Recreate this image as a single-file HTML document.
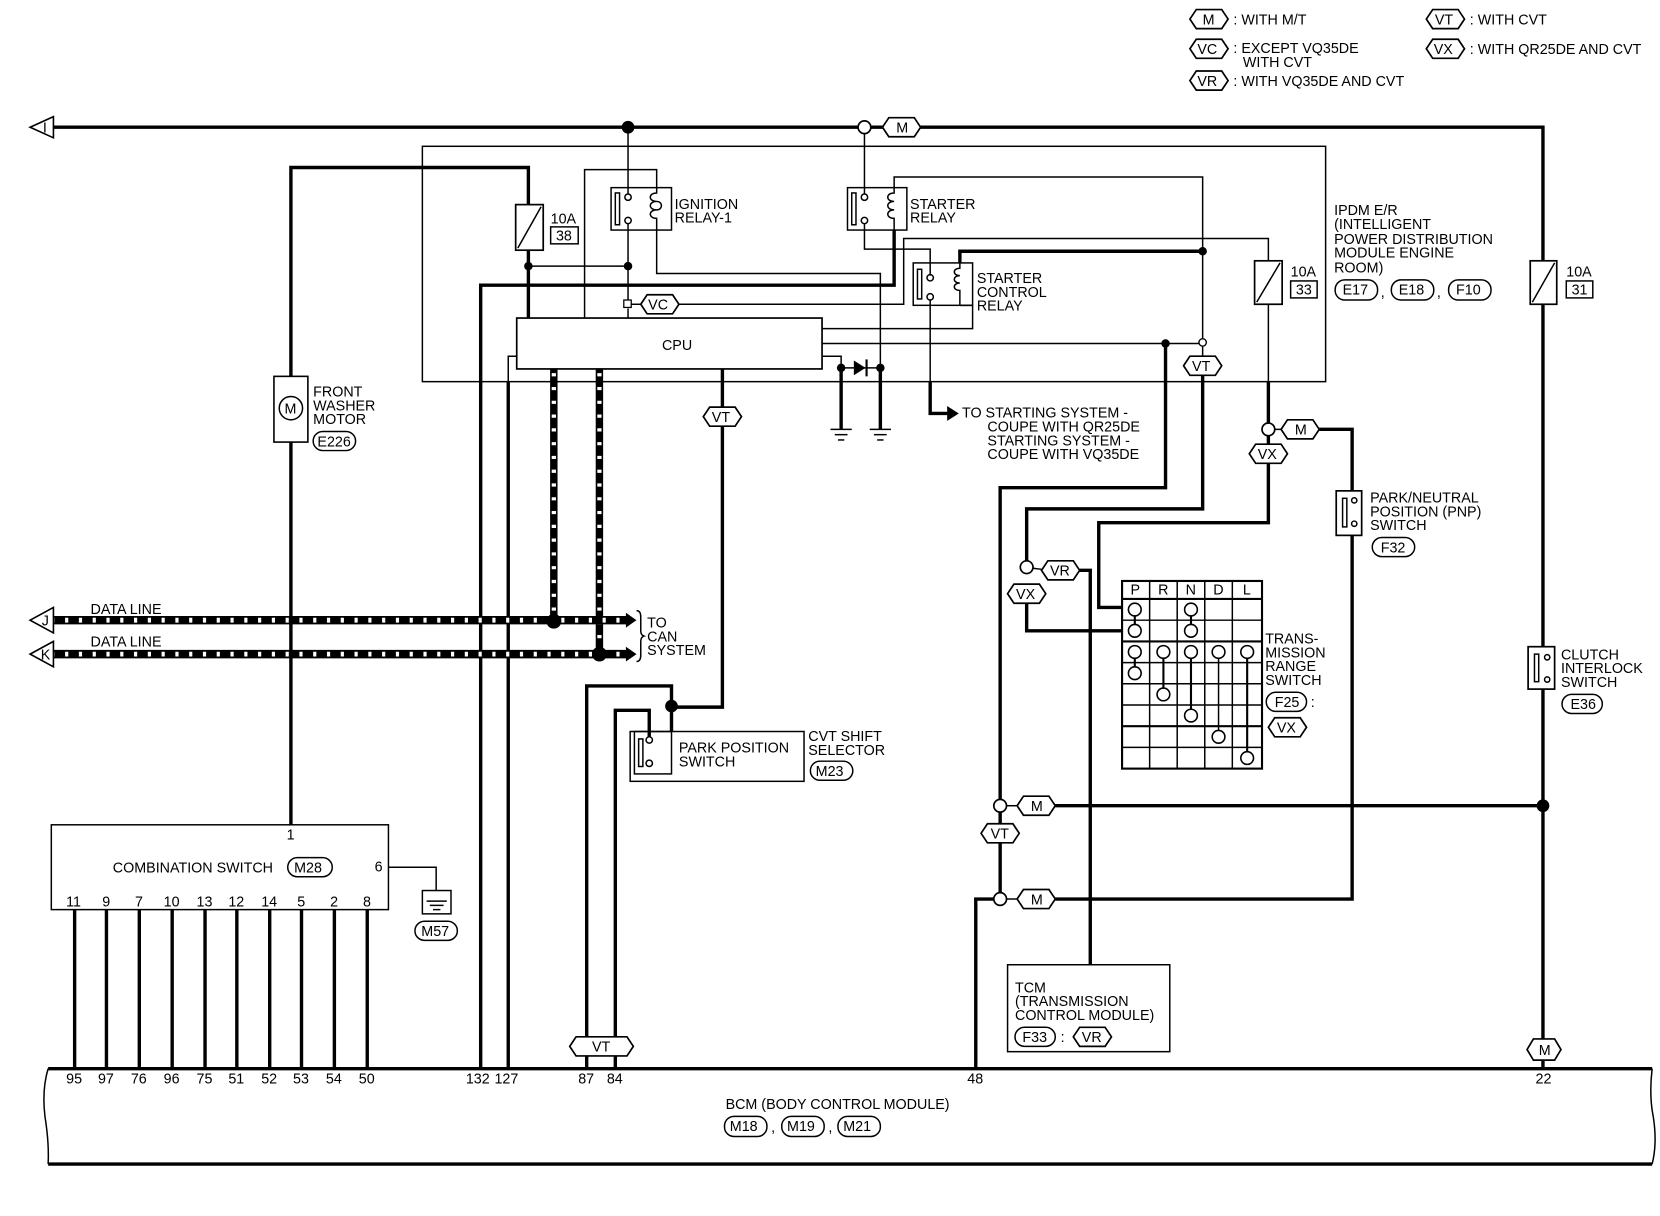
<!DOCTYPE html>
<html><head><meta charset="utf-8"><style>
html,body{margin:0;padding:0;background:#fff}
svg{display:block}
text{font-family:"Liberation Sans",sans-serif;font-size:13.5px;fill:#000}
.t{stroke:#000;stroke-width:1.4;fill:none}
.k{stroke:#000;stroke-width:3.2;fill:none}
.h{fill:#fff;stroke:#000;stroke-width:1.6}
</style></head><body>
<svg width="1660" height="1216" viewBox="0 0 1565 1147" xmlns="http://www.w3.org/2000/svg">
<!-- legend -->
<g>
<polygon class="h" points="1122,18 1128,9 1152,9 1158,18 1152,27 1128,27"/><text x="1134" y="23">M</text><text x="1163" y="23">: WITH M/T</text>
<polygon class="h" points="1122,46 1128,37 1152,37 1158,46 1152,55 1128,55"/><text x="1129" y="51">VC</text><text x="1163" y="50">: EXCEPT VQ35DE</text><text x="1172" y="63">WITH CVT</text>
<polygon class="h" points="1122,76 1128,67 1152,67 1158,76 1152,85 1128,85"/><text x="1129" y="81">VR</text><text x="1163" y="81">: WITH VQ35DE AND CVT</text>
<polygon class="h" points="1345,18 1351,9 1375,9 1381,18 1375,27 1351,27"/><text x="1353" y="23">VT</text><text x="1386" y="23">: WITH CVT</text>
<polygon class="h" points="1345,46 1351,37 1375,37 1381,46 1375,55 1351,55"/><text x="1352" y="51">VX</text><text x="1386" y="51">: WITH QR25DE AND CVT</text>
</g>
<!-- top bus -->
<polyline class="k" points="45,120 1455,120 1455,1008"/>
<polygon points="28,120 50,110 50,130" fill="#fff" stroke="#000" stroke-width="1.5"/><text x="40" y="125" font-size="11">I</text>
<circle cx="592" cy="120" r="6"/>
<!-- IPDM box -->
<rect x="398" y="138" width="852" height="222" class="t"/>
<!-- washer motor wire -->
<polyline class="k" points="274,778 274,158 498,158 498,193"/>
<rect x="258" y="355" width="32" height="62" fill="#fff" stroke="#000" stroke-width="1.5"/>
<circle cx="274" cy="385" r="11" class="t" fill="#fff"/><text x="268" y="390" font-size="12">M</text>
<text x="295" y="374">FRONT</text><text x="295" y="387">WASHER</text><text x="295" y="400">MOTOR</text>
<rect x="295" y="407" width="40" height="18" rx="9" class="t"/><text x="299" y="421" font-size="12">E226</text>
<!-- fuse 38 -->
<rect x="486" y="193" width="26" height="43" fill="#fff" stroke="#000" stroke-width="1.6"/><line x1="488" y1="234" x2="510" y2="195" class="t"/>
<text x="519" y="211">10A</text><rect x="519" y="214" width="26" height="16" class="t"/><text x="524" y="227">38</text>
<polyline class="k" points="498,236 498,300"/>
<circle cx="498" cy="251" r="4"/><circle cx="592" cy="251" r="4"/>
<line class="t" x1="498" y1="251" x2="592" y2="251"/>
<!-- ignition relay -->
<rect x="576" y="177" width="57" height="40" class="t"/>
<rect x="580" y="182" width="4" height="30" class="t"/>
<circle cx="592" cy="186" r="3" class="t" fill="#fff"/><circle cx="592" cy="208" r="3" class="t" fill="#fff"/>
<path class="t" d="M619,177 v5 c-8,0 -8,8 0,8 c-8,0 -8,8 0,8 c-8,0 -8,8 0,8 v11 M619,190 c6,0 6,8 0,8"/>
<text x="636" y="197">IGNITION</text><text x="636" y="210">RELAY-1</text>
<polyline class="t" points="592,120 592,183"/><polyline class="t" points="592,211 592,283"/><line class="t" x1="592" y1="291" x2="592" y2="300"/>
<rect x="588" y="283" width="7" height="7" fill="#fff" stroke="#000" stroke-width="1.2"/>
<polyline class="t" points="551,300 551,160 619,160 619,177"/>
<polyline class="t" points="619,217 619,258 830,258 830,347"/>
<!-- VC -->
<line class="t" x1="595" y1="287" x2="604" y2="287"/>
<polygon class="h" points="604,287 610,278 634,278 640,287 634,296 610,296"/><text x="611" y="292">VC</text>
<polyline class="t" points="640,287 852,287 852,225 1196,225 1196,246"/>
<!-- starter relay -->
<circle cx="815" cy="120" r="6" fill="#fff" stroke="#000" stroke-width="1.6"/>
<polygon class="h" points="832,120 838,111 862,111 868,120 862,129 838,129"/><text x="845" y="125">M</text>
<line class="t" x1="821" y1="120" x2="832" y2="120"/>
<rect x="799" y="177" width="56" height="40" class="t"/>
<rect x="803" y="182" width="4" height="30" class="t"/>
<circle cx="815" cy="186" r="3" class="t" fill="#fff"/><circle cx="815" cy="208" r="3" class="t" fill="#fff"/>
<path class="t" d="M843,177 v5 c-8,0 -8,8 0,8 c-8,0 -8,8 0,8 c-8,0 -8,8 0,8 v11"/>
<text x="858" y="197">STARTER</text><text x="858" y="210">RELAY</text>
<polyline class="t" points="815,126 815,183"/>
<polyline class="t" points="815,211 815,235 877,235 877,260"/>
<polyline class="t" points="843,177 843,167 1134,167 1134,320"/>
<polyline class="k" points="843,217 843,269 453,269 453,1008"/>
<!-- starter control relay -->
<rect x="861" y="248" width="56" height="40" class="t"/>
<rect x="865" y="254" width="4" height="28" class="t"/>
<circle cx="877" cy="262" r="3" class="t" fill="#fff"/><circle cx="877" cy="280" r="3" class="t" fill="#fff"/>
<path class="t" d="M905,248 v5 c-7,0 -7,7 0,7 c-7,0 -7,7 0,7 c-7,0 -7,7 0,7 v14"/>
<text x="921" y="267">STARTER</text><text x="921" y="280">CONTROL</text><text x="921" y="293">RELAY</text>
<polyline class="k" points="905,248 905,237 1134,237"/><circle cx="1134" cy="237" r="4"/>
<polyline class="t" points="775,310 917,310 917,288 905,288"/>
<polyline class="t" points="877,283 877,360"/>
<polyline class="k" points="877,360 877,390 895,390"/>
<polygon points="893,383 904,390 893,397"/>
<text x="907" y="394">TO STARTING SYSTEM -</text><text x="931" y="407">COUPE WITH QR25DE</text><text x="931" y="420">STARTING SYSTEM -</text><text x="931" y="433">COUPE WITH VQ35DE</text>
<!-- CPU -->
<rect x="487" y="300" width="288" height="48" fill="#fff" stroke="#000" stroke-width="1.6"/>
<text x="624" y="330">CPU</text>
<polyline class="t" points="775,324 1131,324"/><circle cx="1099" cy="324" r="4"/>
<circle cx="1134" cy="323" r="3.5" fill="#fff" stroke="#000" stroke-width="1.3"/>
<polyline class="t" points="775,336 793,336 793,347"/>
<line class="t" x1="793" y1="347" x2="830" y2="347"/>
<polygon points="805,340 805,354 816,347"/><line x1="817" y1="339" x2="817" y2="355" stroke="#000" stroke-width="2"/>
<circle cx="793" cy="347" r="4"/><circle cx="830" cy="347" r="4"/>
<polyline class="k" points="793,347 793,405"/><polyline class="k" points="830,347 830,405"/>
<g class="t"><line x1="783" y1="405" x2="803" y2="405"/><line x1="787" y1="410" x2="799" y2="410"/><line x1="790" y1="415" x2="796" y2="415"/>
<line x1="820" y1="405" x2="840" y2="405"/><line x1="824" y1="410" x2="836" y2="410"/><line x1="827" y1="415" x2="833" y2="415"/></g>
<polyline class="t" points="487,336 479,336 479,360"/><polyline class="k" points="479,360 479,1008"/>
<!-- data line verticals -->
<g>
<line x1="522" y1="348" x2="522" y2="585" stroke="#000" stroke-width="7"/>
<line x1="522" y1="352" x2="522" y2="585" stroke="#fff" stroke-width="4" stroke-dasharray="3,10"/>
<line x1="565" y1="348" x2="565" y2="617" stroke="#000" stroke-width="7"/>
<line x1="565" y1="352" x2="565" y2="617" stroke="#fff" stroke-width="4" stroke-dasharray="3,10"/>
</g>
<!-- VT at CPU -->
<polyline class="k" points="681,348 681,667 633,667"/>
<polygon class="h" points="663,393 669,384 693,384 699,393 693,402 669,402"/><text x="671" y="398">VT</text>
<!-- data lines -->
<g>
<line x1="50" y1="585" x2="592" y2="585" stroke="#000" stroke-width="8"/>
<line x1="50" y1="585" x2="592" y2="585" stroke="#fff" stroke-width="4.5" stroke-dasharray="3,10" stroke-dashoffset="2"/>
<line x1="50" y1="617" x2="592" y2="617" stroke="#000" stroke-width="8"/>
<line x1="50" y1="617" x2="592" y2="617" stroke="#fff" stroke-width="4.5" stroke-dasharray="3,10" stroke-dashoffset="2"/>
<polygon points="590,578 600,585 590,592"/><polygon points="590,610 600,617 590,624"/>
<polygon points="28,585 50,573 50,597" fill="#fff" stroke="#000" stroke-width="1.5"/><text x="39" y="590" font-size="11">J</text>
<polygon points="28,617 50,605 50,629" fill="#fff" stroke="#000" stroke-width="1.5"/><text x="38" y="622" font-size="11">K</text>
<circle cx="522" cy="586" r="7"/><circle cx="565" cy="617" r="7"/>
<text x="85" y="579">DATA LINE</text><text x="85" y="610">DATA LINE</text>
<path class="t" d="M600,576 q4,0 4,6 v13 q0,4 3,5 q-3,1 -3,5 v13 q0,6 -4,6"/>
<text x="610" y="592">TO</text><text x="610" y="605">CAN</text><text x="610" y="618">SYSTEM</text>
</g>
<!-- park position switch -->
<polyline class="k" points="553,1008 553,647 633,647 633,690"/>
<circle cx="633" cy="666" r="6"/>
<polyline class="k" points="580,1008 580,670 612,670 612,695"/>
<rect x="594" y="690" width="164" height="47" class="t"/>
<rect x="598" y="690" width="35" height="40" class="t"/>
<rect x="602" y="697" width="4" height="26" class="t"/>
<circle cx="612" cy="698" r="3" class="t" fill="#fff"/><circle cx="612" cy="720" r="3" class="t" fill="#fff"/>
<text x="640" y="710">PARK POSITION</text><text x="640" y="723">SWITCH</text>
<text x="762" y="699">CVT SHIFT</text><text x="762" y="712">SELECTOR</text>
<rect x="764" y="718" width="40" height="18" rx="9" class="t"/><text x="769" y="732" font-size="12">M23</text>
<polygon class="h" points="537,987 543,978 591,978 597,987 591,996 543,996"/><text x="558" y="992">VT</text>
<!-- combination switch -->
<rect x="48" y="778" width="318" height="80" class="t"/>
<text x="270" y="792">1</text>
<text x="106" y="823">COMBINATION SWITCH</text>
<rect x="271" y="809" width="42" height="18" rx="9" class="t"/><text x="277" y="823" font-size="12">M28</text>
<text x="353" y="822">6</text>
<polyline class="t" points="366,818 411,818 411,840"/>
<rect x="398" y="840" width="27" height="22" class="t"/>
<g class="t"><line x1="402" y1="850" x2="421" y2="850"/><line x1="405" y1="854" x2="418" y2="854"/><line x1="408" y1="858" x2="415" y2="858"/></g>
<rect x="391" y="869" width="40" height="18" rx="9" class="t"/><text x="397" y="883" font-size="12">M57</text>
<g font-size="13">
<text x="62" y="855">11</text><text x="96" y="855">9</text><text x="127" y="855">7</text><text x="154" y="855">10</text><text x="185" y="855">13</text><text x="215" y="855">12</text><text x="246" y="855">14</text><text x="280" y="855">5</text><text x="311" y="855">2</text><text x="342" y="855">8</text>
</g>
<g class="k"><line x1="70" y1="858" x2="70" y2="1008"/><line x1="100" y1="858" x2="100" y2="1008"/><line x1="131" y1="858" x2="131" y2="1008"/><line x1="162" y1="858" x2="162" y2="1008"/><line x1="193" y1="858" x2="193" y2="1008"/><line x1="223" y1="858" x2="223" y2="1008"/><line x1="254" y1="858" x2="254" y2="1008"/><line x1="284" y1="858" x2="284" y2="1008"/><line x1="315" y1="858" x2="315" y2="1008"/><line x1="346" y1="858" x2="346" y2="1008"/></g>
<!-- BCM -->
<line class="k" x1="45" y1="1008" x2="1558" y2="1008"/>
<line class="k" x1="45" y1="1098" x2="1558" y2="1098"/>
<path class="t" d="M45,1008 q-6,20 -3,45 q4,25 3,45"/><path class="t" d="M1558,1008 q-3,25 1,45 q4,25 -1,45"/>
<g font-size="13">
<text x="62" y="1022">95</text><text x="92" y="1022">97</text><text x="123" y="1022">76</text><text x="154" y="1022">96</text><text x="185" y="1022">75</text><text x="215" y="1022">51</text><text x="246" y="1022">52</text><text x="276" y="1022">53</text><text x="307" y="1022">54</text><text x="338" y="1022">50</text>
<text x="439" y="1022">132</text><text x="466" y="1022">127</text><text x="545" y="1022">87</text><text x="572" y="1022">84</text><text x="912" y="1022">48</text><text x="1448" y="1022">22</text>
</g>
<text x="684" y="1046">BCM (BODY CONTROL MODULE)</text>
<rect x="683" y="1053" width="40" height="19" rx="9" class="t"/><text x="688" y="1067" font-size="12">M18</text><text x="727" y="1068">,</text>
<rect x="737" y="1053" width="40" height="19" rx="9" class="t"/><text x="742" y="1067" font-size="12">M19</text><text x="781" y="1068">,</text>
<rect x="790" y="1053" width="40" height="19" rx="9" class="t"/><text x="795" y="1067" font-size="12">M21</text>
<!-- IPDM label -->
<g font-size="13.5"><text x="1258" y="203">IPDM E/R</text><text x="1258" y="216">(INTELLIGENT</text><text x="1258" y="230">POWER DISTRIBUTION</text><text x="1258" y="243">MODULE ENGINE</text><text x="1258" y="257">ROOM)</text></g>
<rect x="1259" y="264" width="40" height="19" rx="9" class="t"/><text x="1266" y="278" font-size="12">E17</text><text x="1302" y="280">,</text>
<rect x="1312" y="264" width="40" height="19" rx="9" class="t"/><text x="1319" y="278" font-size="12">E18</text><text x="1355" y="280">,</text>
<rect x="1366" y="264" width="40" height="19" rx="9" class="t"/><text x="1373" y="278" font-size="12">F10</text>
<!-- fuse 33 -->
<rect x="1183" y="246" width="26" height="41" fill="#fff" stroke="#000" stroke-width="1.6"/><line x1="1185" y1="285" x2="1207" y2="248" class="t"/>
<text x="1217" y="261">10A</text><rect x="1217" y="265" width="25" height="16" class="t"/><text x="1222" y="278">33</text>
<polyline class="t" points="1196,287 1196,360"/>
<polyline class="k" points="1196,360 1196,399"/>
<circle cx="1196" cy="405" r="6" fill="#fff" stroke="#000" stroke-width="1.6"/>
<polygon class="h" points="1208,405 1214,396 1238,396 1244,405 1238,414 1214,414"/><text x="1221" y="410">M</text>
<line class="t" x1="1202" y1="405" x2="1208" y2="405"/>
<polyline class="k" points="1244,405 1275,405 1275,463"/>
<polygon class="h" points="1178,428 1184,419 1208,419 1214,428 1208,437 1184,437"/><text x="1186" y="433">VX</text>
<line class="k" x1="1196" y1="411" x2="1196" y2="419"/>
<polyline class="k" points="1196,437 1196,493 1036,493 1036,573 1058,573"/>
<!-- PNP -->
<rect x="1260" y="463" width="24" height="42" fill="#fff" stroke="#000" stroke-width="1.6"/>
<rect x="1266" y="470" width="4" height="27" class="t"/>
<circle cx="1277" cy="472" r="2.5" class="t"/><circle cx="1277" cy="494" r="2.5" class="t"/>
<text x="1292" y="474">PARK/NEUTRAL</text><text x="1292" y="487">POSITION (PNP)</text><text x="1292" y="500">SWITCH</text>
<rect x="1294" y="507" width="40" height="18" rx="9" class="t"/><text x="1302" y="521" font-size="12">F32</text>
<polyline class="k" points="1275,505 1275,848 995,848"/>
<!-- 1099 line -->
<polyline class="k" points="1099,324 1099,460 943,460 943,754"/>
<circle cx="943" cy="760" r="6" fill="#fff" stroke="#000" stroke-width="1.6"/>
<polygon class="h" points="959,760 965,751 989,751 995,760 989,769 965,769"/><text x="972" y="765">M</text>
<line class="t" x1="949" y1="760" x2="959" y2="760"/>
<polyline class="k" points="995,760 1455,760"/><circle cx="1455" cy="760" r="6"/>
<line class="k" x1="943" y1="766" x2="943" y2="777"/>
<polygon class="h" points="925,786 931,777 955,777 961,786 955,795 931,795"/><text x="934" y="791">VT</text>
<line class="k" x1="943" y1="795" x2="943" y2="842"/>
<circle cx="943" cy="848" r="6" fill="#fff" stroke="#000" stroke-width="1.6"/>
<polygon class="h" points="959,848 965,839 989,839 995,848 989,857 965,857"/><text x="972" y="853">M</text>
<line class="t" x1="949" y1="848" x2="959" y2="848"/>
<polyline class="k" points="937,848 920,848 920,1008"/>
<!-- 1134 line -->
<polygon class="h" points="1116,345 1122,336 1146,336 1152,345 1146,354 1122,354"/><text x="1124" y="350">VT</text>
<line class="t" x1="1134" y1="327" x2="1134" y2="336"/>
<polyline class="k" points="1134,354 1134,480 968,480 968,529"/>
<circle cx="968" cy="535" r="6" fill="#fff" stroke="#000" stroke-width="1.6"/>
<polygon class="h" points="982,538 988,529 1012,529 1018,538 1012,547 988,547"/><text x="990" y="543">VR</text>
<line class="t" x1="974" y1="536" x2="982" y2="537"/>
<polyline class="k" points="1018,538 1028,538 1028,910"/>
<polygon class="h" points="950,560 956,551 980,551 986,560 980,569 956,569"/><text x="958" y="565">VX</text>
<polyline class="k" points="968,569 968,595 1058,595"/>
<!-- TR switch table -->
<g class="t">
<rect x="1058" y="548" width="132" height="177" stroke-width="2"/>
<line x1="1058" y1="565" x2="1190" y2="565" stroke-width="2"/>
<line x1="1084" y1="548" x2="1084" y2="725"/><line x1="1110" y1="548" x2="1110" y2="725"/><line x1="1136" y1="548" x2="1136" y2="725"/><line x1="1162" y1="548" x2="1162" y2="725"/>
<line x1="1058" y1="585" x2="1190" y2="585"/><line x1="1058" y1="605" x2="1190" y2="605" stroke-width="2"/><line x1="1058" y1="625" x2="1190" y2="625"/><line x1="1058" y1="645" x2="1190" y2="645"/><line x1="1058" y1="665" x2="1190" y2="665"/><line x1="1058" y1="685" x2="1190" y2="685" stroke-width="2"/><line x1="1058" y1="705" x2="1190" y2="705"/>
</g>
<g font-size="12"><text x="1066" y="561">P</text><text x="1092" y="561">R</text><text x="1118" y="561">N</text><text x="1144" y="561">D</text><text x="1172" y="561">L</text></g>
<g stroke="#000" stroke-width="2" fill="none">
<line x1="1070" y1="575" x2="1070" y2="595"/><line x1="1070" y1="615" x2="1070" y2="635"/>
<line x1="1097" y1="615" x2="1097" y2="655"/><line x1="1123" y1="575" x2="1123" y2="595"/><line x1="1123" y1="615" x2="1123" y2="675"/>
<line x1="1149" y1="615" x2="1149" y2="695" stroke-width="1.4"/><line x1="1176" y1="615" x2="1176" y2="715"/>
</g>
<g fill="#fff" stroke="#000" stroke-width="1.5">
<circle cx="1070" cy="575" r="6"/><circle cx="1070" cy="595" r="6"/><circle cx="1070" cy="615" r="6"/><circle cx="1070" cy="635" r="6"/>
<circle cx="1123" cy="575" r="6"/><circle cx="1123" cy="595" r="6"/>
<circle cx="1097" cy="615" r="6"/><circle cx="1123" cy="615" r="6"/><circle cx="1149" cy="615" r="6"/><circle cx="1176" cy="615" r="6"/>
<circle cx="1097" cy="655" r="6"/><circle cx="1123" cy="675" r="6"/><circle cx="1149" cy="695" r="6"/><circle cx="1176" cy="715" r="6"/>
</g>
<text x="1193" y="607">TRANS-</text><text x="1193" y="620">MISSION</text><text x="1193" y="633">RANGE</text><text x="1193" y="646">SWITCH</text>
<rect x="1194" y="653" width="38" height="18" rx="9" class="t"/><text x="1202" y="667" font-size="12">F25</text><text x="1236" y="667">:</text>
<polygon class="h" points="1196,686 1202,677 1226,677 1232,686 1226,695 1202,695"/><text x="1204" y="691">VX</text>
<!-- TCM -->
<rect x="950" y="910" width="153" height="82" class="t"/>
<text x="957" y="936">TCM</text><text x="957" y="949">(TRANSMISSION</text><text x="957" y="962">CONTROL MODULE)</text>
<rect x="957" y="969" width="38" height="18" rx="9" class="t"/><text x="964" y="983" font-size="12">F33</text><text x="1000" y="983">:</text>
<polygon class="h" points="1012,978 1018,969 1042,969 1048,978 1042,987 1018,987"/><text x="1020" y="983">VR</text>
<!-- right side -->
<rect x="1443" y="246" width="25" height="41" fill="#fff" stroke="#000" stroke-width="1.6"/><line x1="1445" y1="285" x2="1466" y2="248" class="t"/>
<text x="1477" y="261">10A</text><rect x="1477" y="265" width="25" height="16" class="t"/><text x="1482" y="278">31</text>
<rect x="1441" y="610" width="25" height="40" fill="#fff" stroke="#000" stroke-width="1.6"/>
<rect x="1447" y="617" width="4" height="26" class="t"/>
<circle cx="1459" cy="620" r="2.5" class="t"/><circle cx="1459" cy="641" r="2.5" class="t"/>
<text x="1472" y="622">CLUTCH</text><text x="1472" y="635">INTERLOCK</text><text x="1472" y="648">SWITCH</text>
<rect x="1473" y="655" width="38" height="18" rx="9" class="t"/><text x="1481" y="669" font-size="12">E36</text>
<polygon class="h" points="1440,990 1446,980 1466,980 1472,990 1466,1000 1446,1000"/><text x="1451" y="995">M</text>
</svg>
</body></html>
